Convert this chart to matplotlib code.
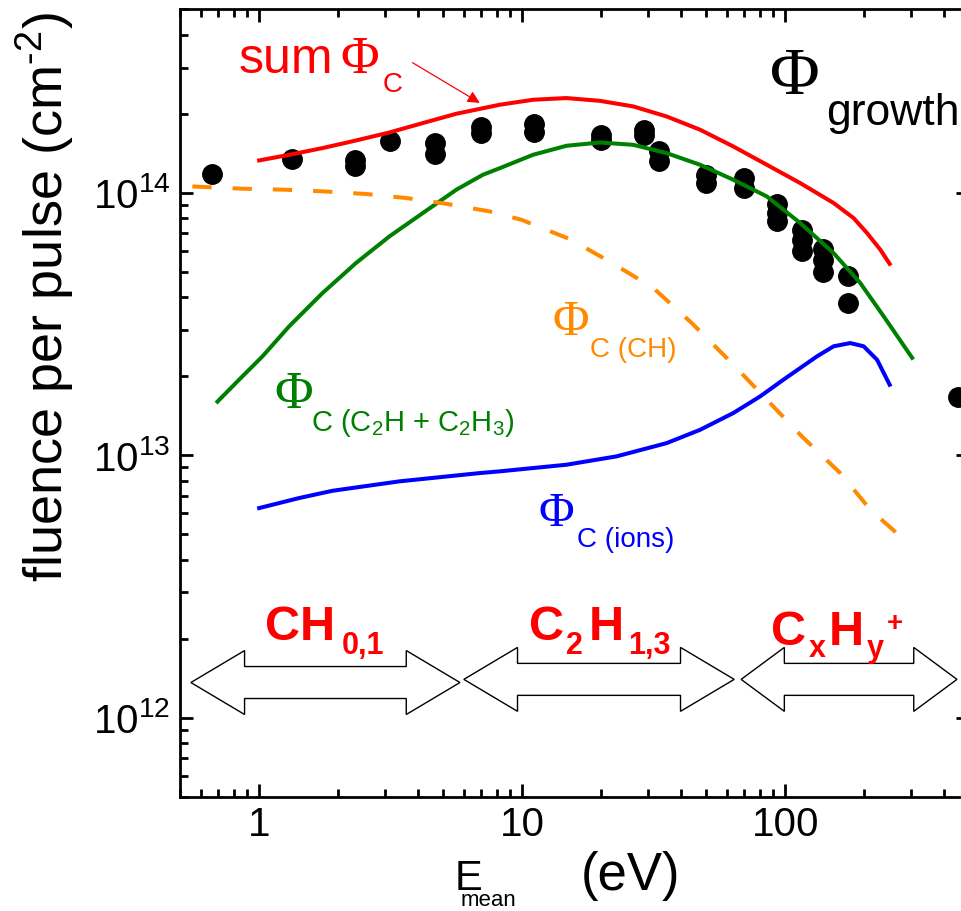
import numpy as np
import matplotlib
matplotlib.use('Agg')
import matplotlib.pyplot as plt
from matplotlib import ticker
from matplotlib.patches import Polygon
from matplotlib.transforms import blended_transform_factory

plt.rcParams['font.family'] = 'Liberation Sans'
plt.rcParams['mathtext.fontset'] = 'custom'
plt.rcParams['mathtext.rm'] = 'Liberation Sans'
plt.rcParams['mathtext.it'] = 'Liberation Sans:italic'
plt.rcParams['mathtext.bf'] = 'Liberation Sans:bold'

# measured data points (black dots)
dots_E = [0.66, 1.33, 2.32, 2.32, 3.15, 4.65, 4.65, 6.99, 6.99, 11.1, 11.1,
          19.9, 19.9, 29.1, 29.1, 33.2, 33.2, 50.0, 50.0, 69.8, 69.8,
          93.5, 93.5, 93.5, 116, 116, 116, 139, 139, 139, 174, 174, 456]
dots_phi = [1.18e14, 1.34e14, 1.33e14, 1.27e14, 1.58e14, 1.55e14, 1.40e14,
            1.78e14, 1.69e14, 1.83e14, 1.70e14, 1.66e14, 1.59e14, 1.74e14,
            1.66e14, 1.44e14, 1.32e14, 1.17e14, 1.09e14, 1.14e14, 1.04e14,
            9.1e13, 8.4e13, 7.8e13, 7.2e13, 6.6e13, 6.0e13, 6.1e13, 5.55e13,
            4.97e13, 4.83e13, 3.81e13, 1.66e13]

# sum Phi_C
sum_E = [1.0, 1.301, 1.742, 2.335, 3.128, 4.19, 5.62, 8.21, 10.99, 14.74, 19.73,
         26.43, 35.42, 47.5, 63.5, 85.2, 114, 152.8, 182, 204.8, 230, 249.6]
sum_phi = [1.328e14, 1.395e14, 1.48e14, 1.582e14, 1.697e14, 1.843e14, 2.0e14,
           2.164e14, 2.261e14, 2.295e14, 2.24e14, 2.133e14, 1.953e14, 1.738e14,
           1.501e14, 1.278e14, 1.089e14, 9.14e13, 8.01e13, 7.02e13, 6.07e13,
           5.36e13]

# Phi_C (C2H + C2H3)
c2h_E = [0.694, 0.839, 1.029, 1.301, 1.742, 2.335, 3.128, 4.19, 5.62, 7.09,
         8.21, 10.99, 14.74, 19.73, 26.43, 35.42, 47.5, 63.5, 85.2, 114,
         152.8, 193, 237, 304]
c2h_phi = [1.60e13, 1.94e13, 2.38e13, 3.10e13, 4.15e13, 5.40e13, 6.82e13,
           8.37e13, 1.027e14, 1.171e14, 1.24e14, 1.395e14, 1.51e14, 1.554e14,
           1.523e14, 1.416e14, 1.278e14, 1.121e14, 9.68e13, 7.67e13, 5.89e13,
           4.53e13, 3.38e13, 2.35e13]

# Phi_C (CH)
ch_E = [0.557, 0.864, 1.264, 1.795, 2.55, 3.62, 5.14, 7.52, 9.93, 15.17, 21.5,
        31.5, 44.1, 61.7, 85.2, 115.8, 162, 210.8, 274, 281]
ch_phi = [1.057e14, 1.036e14, 1.027e14, 1.011e14, 9.89e13, 9.55e13, 9.08e13,
          8.49e13, 7.89e13, 6.66e13, 5.47e13, 4.34e13, 3.19e13, 2.28e13,
          1.627e13, 1.179e13, 8.55e12, 6.2e12, 4.91e12, 4.69e12]

# Phi_C (ions)
ion_E = [1.0, 1.42, 1.9, 3.41, 6.89, 8.21, 14.74, 22.85, 35.42, 47.5, 63.5,
         80.3, 98.5, 132.1, 152.8, 176.8, 198.8, 223.6, 249.6]
ion_phi = [6.29e12, 6.87e12, 7.32e12, 7.95e12, 8.55e12, 8.68e12, 9.2e12,
           9.9e12, 1.112e13, 1.25e13, 1.448e13, 1.675e13, 1.94e13, 2.38e13,
           2.60e13, 2.675e13, 2.60e13, 2.31e13, 1.856e13]

# energy ranges of the species (double arrows)
ranges = [(0.55, 5.8), (6.0, 64.0), (68.0, 450.0)]

orange = '#ff8a00'
green = '#008000'

W, H = 962, 911
fig = plt.figure(figsize=(W / 100, H / 100), dpi=100)
ax = fig.add_axes([180 / W, 1 - 796.7 / H, (969 - 180) / W, (796.7 - 9.3) / H])


def put(px, py, s, size, color='k', family='Liberation Sans', weight='normal'):
    fig.text(px / W, 1 - py / H, s, fontsize=size, color=color, family=family,
             weight=weight, ha='left', va='baseline', zorder=6)


ax.plot(dots_E, dots_phi, 'o', color='k', ms=14, zorder=2)
ax.plot(sum_E, sum_phi, color='red', lw=2.9, zorder=3)
ax.plot(c2h_E, c2h_phi, color=green, lw=2.9, zorder=3)
ax.plot(ch_E, ch_phi, color=orange, lw=2.9, dashes=(4.8, 5.2), zorder=3)
ax.plot(ion_E, ion_phi, color='blue', lw=2.9, zorder=3)

ax.set_xscale('log')
ax.set_yscale('log')
ax.set_xlim(0.5, 500)
ax.set_ylim(5e11, 5e14)
ax.set_xticks([1, 10, 100])
ax.set_xticklabels(['1', '10', '100'])
ax.set_yticks([1e12, 1e13, 1e14])
ax.xaxis.set_minor_locator(ticker.LogLocator(subs=np.arange(2, 10), numticks=20))
ax.yaxis.set_minor_locator(ticker.LogLocator(subs=np.arange(2, 10), numticks=20))
ax.xaxis.set_minor_formatter(ticker.NullFormatter())
ax.yaxis.set_minor_formatter(ticker.NullFormatter())
ax.tick_params(which='both', direction='in', top=True, right=True, width=2)
ax.tick_params(which='major', length=9.5, labelsize=29, pad=7)
ax.tick_params(which='minor', length=6)
for sp in ax.spines.values():
    sp.set_linewidth(2)

# double arrows for the species ranges
tr = blended_transform_factory(ax.transData, ax.transAxes)
yc_list = [0.145, 0.149, 0.149]
head_f = [1.6, 1.6, 1.46]
for (x0, x1), yc, f in zip(ranges, yc_list, head_f):
    sw, hh = 0.0203, 0.0406
    verts = [(x0, yc), (x0 * f, yc + hh), (x0 * f, yc + sw), (x1 / f, yc + sw),
             (x1 / f, yc + hh), (x1, yc), (x1 / f, yc - hh), (x1 / f, yc - sw),
             (x0 * f, yc - sw), (x0 * f, yc - hh)]
    ax.add_patch(Polygon(verts, closed=True, facecolor='white', edgecolor='k',
                         lw=1.0, transform=tr, zorder=4))

ax.annotate('', xy=(6.9, 2.2e14), xytext=(3.83, 3.13e14),
            arrowprops=dict(arrowstyle='-|>', color='red', lw=0.9,
                            mutation_scale=18, shrinkA=0, shrinkB=0))

# curve labels
put(239, 73, 'sum', 36, 'red')
put(340, 73, 'Φ', 38, 'red', family='Liberation Serif')
put(383, 92, 'C', 20, 'red')
put(770, 94, 'Φ', 49, 'k', family='Liberation Serif')
put(826, 125, 'growth', 32)
put(552, 335, 'Φ', 36, orange, family='Liberation Serif')
put(590, 357, 'C (CH)', 20, orange)
put(274, 408, 'Φ', 38, green, family='Liberation Serif')
put(311, 431, 'C (C$_2$H + C$_2$H$_3$)', 21, green)
put(539, 526, 'Φ', 35, 'blue', family='Liberation Serif')
put(577, 547, 'C (ions)', 20, 'blue')

# species labels
put(265, 640, 'CH', 35, 'red', weight='bold')
put(342, 654, '0,1', 22, 'red', weight='bold')
put(529, 640, 'C', 35, 'red', weight='bold')
put(566, 654, '2', 22, 'red', weight='bold')
put(589, 640, 'H', 35, 'red', weight='bold')
put(628, 654, '1,3', 22, 'red', weight='bold')
put(771, 645, 'C', 35, 'red', weight='bold')
put(809, 657, 'x', 22, 'red', weight='bold')
put(829, 645, 'H', 35, 'red', weight='bold')
put(867, 657, 'y', 22, 'red', weight='bold')
put(887, 631, '+', 20, 'red', weight='bold')

# axis labels
put(455, 890, 'E', 30)
put(461, 906, 'mean', 16)
put(581, 890, '(eV)', 38)
fig.text(63 / W, 1 - 582 / H, r'fluence per pulse (cm$^{\text{-}2}$)', fontsize=39,
         rotation=90, rotation_mode='anchor', ha='left', va='baseline')

fig.savefig('out.png', dpi=100)
